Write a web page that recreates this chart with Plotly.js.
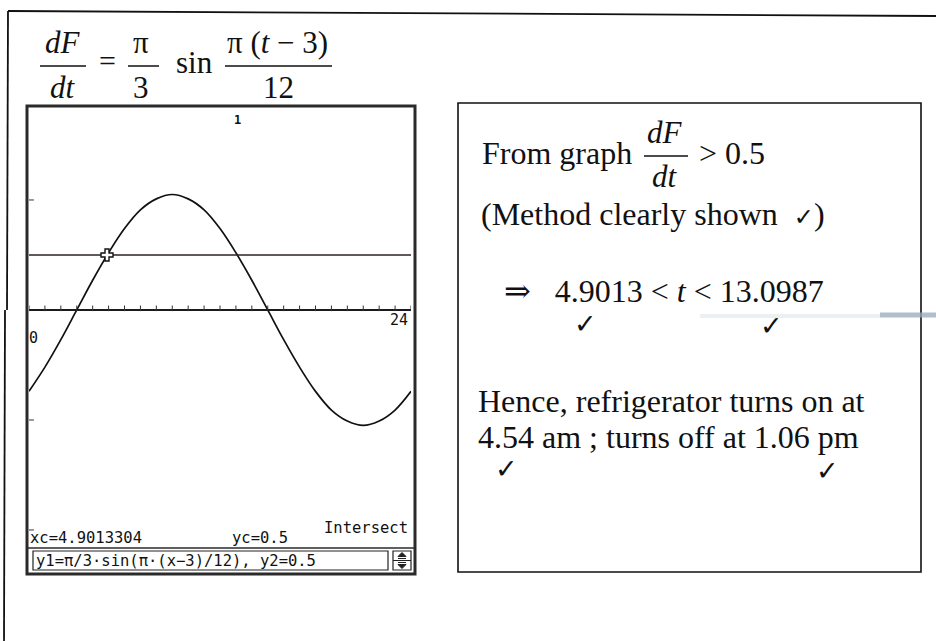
<!DOCTYPE html>
<html>
<head>
<meta charset="utf-8">
<script src="https://cdn.plot.ly/plotly-3.0.1.min.js"></script>
<style>
  html, body { margin: 0; padding: 0; background: #ffffff; }
  #chart { width: 936px; height: 641px; }
</style>
</head>
<body>
<div id="chart"></div>
<script>
// Rate of change dF/dt over one day (t in hours), sampled off the calculator screen
const tHours = [0, 1, 2, 3, 4, 5, 6, 7, 8, 9, 10, 11, 12, 13, 14, 15, 16, 17, 18, 19, 20, 21, 22, 23, 24];
const dFdt   = [-0.74, -0.52, -0.27, 0, 0.27, 0.52, 0.74, 0.91, 1.01, 1.05, 1.01, 0.91, 0.74,
                0.52, 0.27, 0, -0.27, -0.52, -0.74, -0.91, -1.01, -1.05, -1.01, -0.91, -0.74];

// Threshold line y2 = 0.5
const levelX = [0, 24];
const levelY = [0.5, 0.5];

// Intersection reported by the calculator
const xc = 4.9013304;
const yc = 0.5;

// Axis tick positions on the calculator screen
const xTickVals = [0, 1, 2, 3, 4, 5, 6, 7, 8, 9, 10, 11, 12, 13, 14, 15, 16, 17, 18, 19, 20, 21, 22, 23, 24];
const yTickVals = [1, -1, -2];
const xMinLabel = '0';
const xMaxLabel = '24';
const yMaxLabel = '1';

// Solution values
const tLow = '4.9013';
const tHigh = '13.0987';
const onTime = '4.54 am';
const offTime = '1.06 pm';

// ---- page geometry helpers (pixel -> paper) ----
const W = 936, H = 641;
const px = x => x / W;
const py = y => 1 - y / H;

const SERIF = "'Liberation Serif', 'Times New Roman', 'DejaVu Serif', serif";
const MONO = "'DejaVu Sans Mono', 'Liberation Mono', monospace";
const CHECK = "'DejaVu Sans', sans-serif";
const INK = '#111111';

const annotations = [];
// place text by its baseline
function txt(text, x, baseline, size, anchor, family, extra) {
  annotations.push(Object.assign({
    xref: 'paper', yref: 'paper',
    x: px(x), y: py(baseline - 0.34 * size),
    xanchor: anchor || 'left', yanchor: 'middle',
    text: text, showarrow: false, borderpad: 0,
    font: { family: family || SERIF, size: size, color: INK }
  }, extra || {}));
}

const shapes = [];
function line(x0, y0, x1, y1, w, c) {
  shapes.push({ type: 'line', xref: 'paper', yref: 'paper',
    x0: px(x0), y0: py(y0), x1: px(x1), y1: py(y1),
    line: { color: c || INK, width: w || 1.5 } });
}
function rect(x0, y0, x1, y1, w, c, fill) {
  shapes.push({ type: 'rect', xref: 'paper', yref: 'paper',
    x0: px(x0), y0: py(y0), x1: px(x1), y1: py(y1),
    line: { color: c || INK, width: w || 1.5 }, fillcolor: fill || 'rgba(0,0,0,0)' });
}
function path(d, w, c, fill) {
  shapes.push({ type: 'path', xref: 'paper', yref: 'paper', path: d,
    line: { color: c || INK, width: w || 1 }, fillcolor: fill || 'rgba(0,0,0,0)' });
}
const P = (x, y) => px(x) + ',' + py(y);

// ---- page frame ----
line(8, 11, 936, 16, 1.8);
line(8, 11, 7, 310, 1.8);
line(5, 310, 4, 641, 1.8);

// ---- governing equation ----
txt('<i>dF</i>', 63, 53, 31, 'center');
line(40, 66, 86, 66, 1.5);
txt('<i>dt</i>', 63, 98, 31, 'center');
txt('=', 107, 71, 30, 'center');
txt('π', 141, 53, 31, 'center');
line(128, 66, 159, 66, 1.5);
txt('3', 141, 98, 31, 'center');
txt('sin', 175, 73, 31, 'left');
txt('π (<i>t</i> − 3)', 277, 53, 31, 'center');
line(225, 66, 332, 66, 1.5);
txt('12', 278, 98, 31, 'center');

// ---- calculator screen frame ----
rect(27, 106, 415, 574, 3, '#2a2a2a');
line(27, 548, 415, 548, 1.5, '#2a2a2a');
rect(33, 551, 388, 570, 1.2, '#222');
rect(393, 551, 411, 570, 1.2, '#222');
line(393, 560.5, 411, 560.5, 1, '#222');
// scroll arrows
path('M' + P(402, 552.5) + 'L' + P(398, 556.5) + 'L' + P(406, 556.5) + 'Z', 1, '#222', '#222');
line(398, 558.5, 406, 558.5, 1, '#222');
line(398, 562.5, 406, 562.5, 1, '#222');
path('M' + P(402, 568.5) + 'L' + P(398, 564.5) + 'L' + P(406, 564.5) + 'Z', 1, '#222', '#222');

// calculator labels
txt('<b>' + yMaxLabel + '</b>', 237, 124, 12, 'center', MONO);
txt(xMaxLabel, 409, 325, 15, 'right', MONO);
txt(xMinLabel, 28, 343, 15, 'left', MONO);
txt('Intersect', 409, 533, 15.5, 'right', MONO);
txt('xc=' + xc, 29, 543, 15.5, 'left', MONO);
txt('yc=' + yc, 231, 543, 15.5, 'left', MONO);
txt('y1=π/3·sin(π·(x−3)/12), y2=' + levelY[0], 35, 566, 15.5, 'left', MONO);

// ---- working box ----
rect(458, 103, 921, 572, 1.6);
line(700, 316, 880, 316, 4, 'rgba(175,188,198,0.22)');
line(880, 315, 936, 315, 5, 'rgba(150,170,185,0.75)');

txt('From graph', 481, 164, 32, 'left');
txt('<i>dF</i>', 665, 143, 31, 'center');
line(644, 156, 688, 156, 1.5);
txt('<i>dt</i>', 665, 187, 31, 'center');
txt('&gt; 0.5', 698, 164, 32, 'left');
txt('(Method clearly shown  <span style="font-family:DejaVu Sans;font-size:24px">✓</span>)', 480, 225, 32, 'left');
txt('⇒   ' + tLow + ' &lt; <i>t</i> &lt; ' + tHigh, 503, 302, 32, 'left');
txt('✓', 585, 333, 27, 'center', CHECK);
txt('✓', 771, 335, 27, 'center', CHECK);
txt('Hence, refrigerator turns on at', 477, 412, 32, 'left');
txt(onTime + ' ; turns off at ' + offTime, 477, 448, 32, 'left');
txt('✓', 507, 478, 27, 'center', CHECK);
txt('✓', 827, 480, 27, 'center', CHECK);

// ---- traces on the calculator screen ----
const traces = [
  { x: tHours, y: dFdt, type: 'scatter', mode: 'lines',
    line: { color: '#111', width: 1.7, shape: 'spline', smoothing: 1 },
    hoverinfo: 'skip', name: 'y1' },
  { x: levelX, y: levelY, type: 'scatter', mode: 'lines',
    line: { color: '#2e1f22', width: 1.6 }, hoverinfo: 'skip', name: 'y2' },
  { x: xTickVals, y: xTickVals.map(() => 0.015), type: 'scatter', mode: 'markers',
    marker: { symbol: 'line-ns', size: 4, line: { color: '#333', width: 1 } },
    hoverinfo: 'skip', name: 'xticks' },
  { x: yTickVals.map(() => 0), y: yTickVals, type: 'scatter', mode: 'markers',
    marker: { symbol: 'line-ew', size: 7, line: { color: '#333', width: 1 } },
    hoverinfo: 'skip', name: 'yticks' },
  { x: [xc], y: [yc], type: 'scatter', mode: 'markers',
    marker: { symbol: 'cross', size: 10, color: '#ffffff', line: { color: '#111', width: 1.4 } },
    hoverinfo: 'skip', name: 'intersect' }
];

const layout = {
  width: W, height: H,
  margin: { l: 0, r: 0, t: 0, b: 0 },
  paper_bgcolor: '#ffffff', plot_bgcolor: '#ffffff',
  showlegend: false,
  xaxis: { domain: [px(29), px(411)], range: [0, 24], showgrid: false, zeroline: false,
           showticklabels: false, ticks: '', showline: false, fixedrange: true },
  yaxis: { domain: [py(548), py(110)], range: [-2.164, 1.818], showgrid: false,
           zeroline: true, zerolinecolor: '#1e1a1a', zerolinewidth: 1.6,
           showticklabels: false, ticks: '', showline: false, fixedrange: true },
  shapes: shapes,
  annotations: annotations
};

Plotly.newPlot('chart', traces, layout, { staticPlot: true, displayModeBar: false });
</script>
</body>
</html>
